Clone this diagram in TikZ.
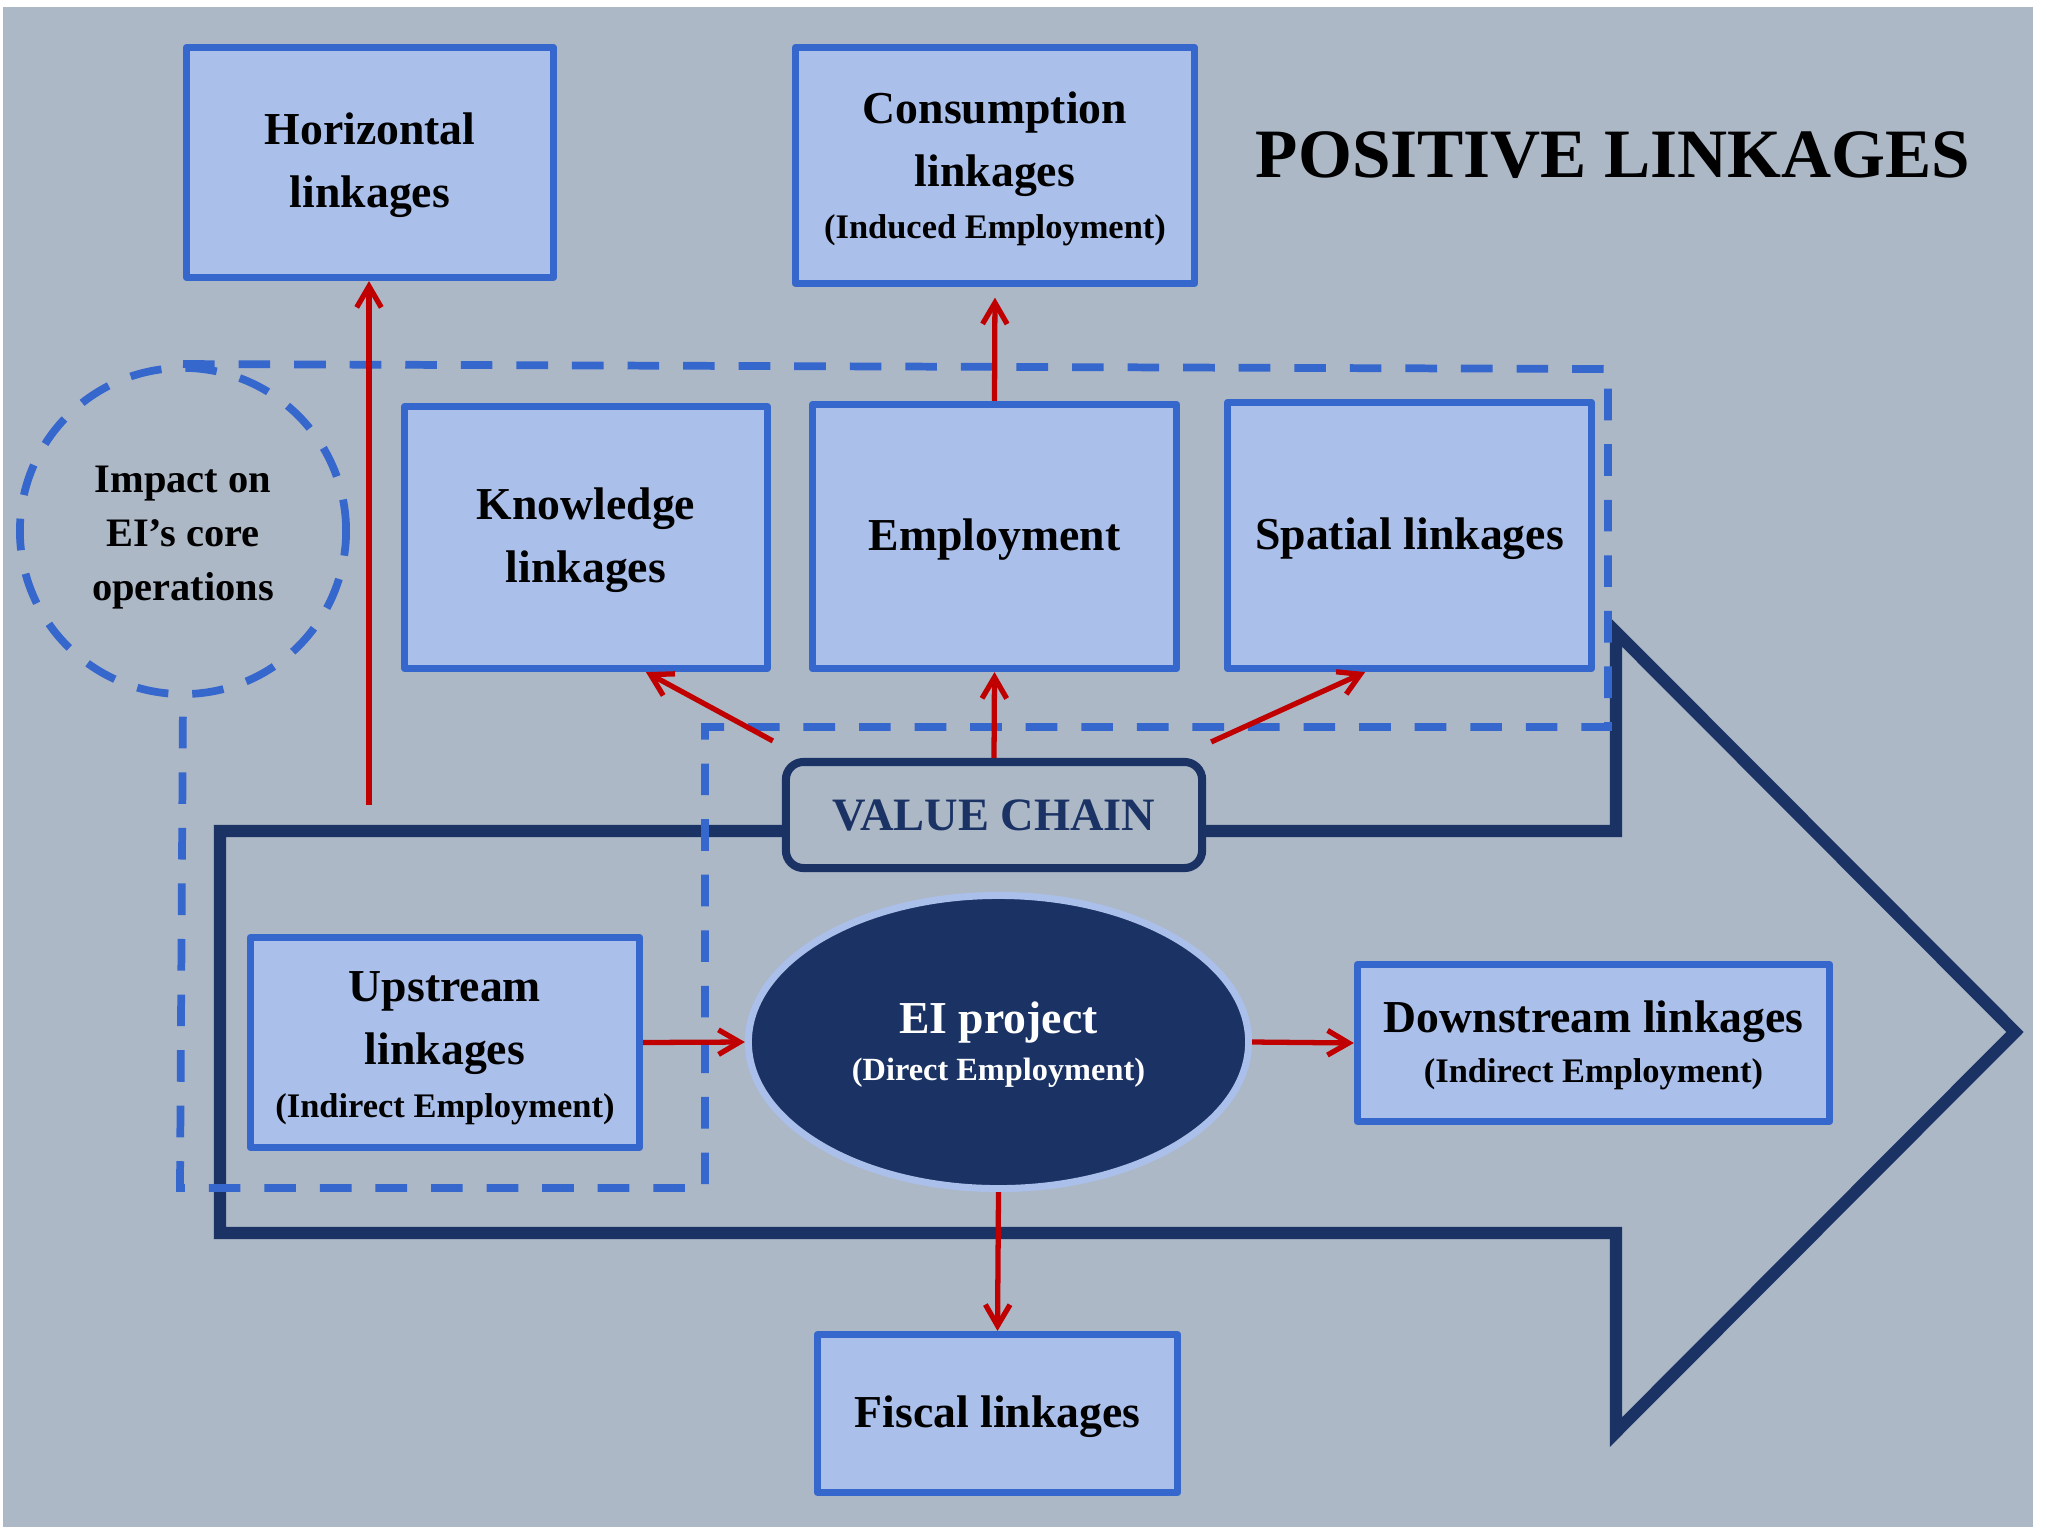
\documentclass[tikz,border=0pt]{standalone}
\usepackage{fontspec}
\setmainfont{Liberation Serif}
\usetikzlibrary{arrows.meta,shapes.geometric}
\definecolor{bggray}{HTML}{ADB8C7}
\definecolor{boxfill}{HTML}{AABFE9}
\definecolor{boxblue}{HTML}{3667CC}
\definecolor{navy}{HTML}{1B3264}
\definecolor{linkred}{HTML}{C00000}
\newcommand{\smalltxt}[1]{{\fontsize{9.8}{12}\selectfont #1}}

\begin{document}
\begin{tikzpicture}[x=0.01cm,y=-0.01cm,font=\bfseries,
	lowtext/.style={execute at begin node={\rule{0pt}{#1}}},
	linkbox/.style={draw=boxblue,fill=boxfill,line width=2pt,line join=round,align=center,inner sep=0pt,lowtext=11pt,font=\bfseries\fontsize{13}{18}\selectfont},
	linkarrow/.style={draw=linkred,line width=1.5pt,-{Straight Barb[length=6pt,width=7pt]}},
	dashline/.style={draw=boxblue,line width=2.2pt,dash pattern=on 9pt off 6.8pt}]
	%background
	\useasboundingbox (0,0) rectangle (2046,1527);
	\fill[bggray] (3,7) rectangle (2033,1527);
	
	%value chain arrow
	\draw[navy,line width=3.5pt] (220,831) -- (1616,831) -- (1616,632) -- (2015,1032) -- (1616,1432) -- (1616,1233) -- (220,1233) -- cycle;
	
	%core operations
	\node[circle,dashline,minimum size=3.26cm,inner sep=0pt,align=center,lowtext=42pt,font=\bfseries\fontsize{11.5}{15.4}\selectfont] (impact) at (183,531) {Impact on\\EI's core\\operations}; %circle
	\draw[dashline] (impact.north) -- (1608,369) -- (1608,727) -- (705,727) -- (705,1188) -- (180,1188) -- (impact.south); %dashed outline
	
	%boxes
		\node[linkbox,lowtext=28.7pt,minimum width=3.67cm,minimum height=2.30cm] (horiz) at (370,162.5) {Horizontal\\linkages}; %horizontal
		\node[linkbox,lowtext=43.8pt,minimum width=3.99cm,minimum height=2.36cm] (cons) at (995,165.5) {Consumption\\linkages\\[-3.2pt]\smalltxt{(Induced Employment)}}; %consumption
		\node[linkbox,lowtext=28.7pt,minimum width=3.62cm,minimum height=2.62cm] (know) at (586,537.5) {Knowledge\\linkages}; %knowledge
		\node[linkbox,minimum width=3.64cm,minimum height=2.64cm] (empl) at (994.5,536.5) {Employment}; %employment
		\node[linkbox,minimum width=3.64cm,minimum height=2.66cm] (spat) at (1409.5,535.5) {Spatial linkages}; %spatial
		\node[linkbox,lowtext=44.6pt,minimum width=3.89cm,minimum height=2.10cm] (up) at (445,1042.5) {Upstream\\linkages\\[-3pt]\smalltxt{(Indirect Employment)}}; %upstream
		\node[linkbox,lowtext=24.5pt,minimum width=4.72cm,minimum height=1.57cm] (down) at (1593.5,1043) {Downstream linkages\\[-3.8pt]\smalltxt{(Indirect Employment)}}; %downstream
		\node[linkbox,minimum width=3.60cm,minimum height=1.58cm] (fisc) at (997.5,1413.5) {Fiscal linkages}; %fiscal
	
	%centre
		\node[draw=navy,fill=bggray,line width=2.3pt,rounded corners=5pt,minimum width=4.16cm,minimum height=1.06cm,text=navy,font=\bfseries\fontsize{13.2}{16}\selectfont] (vc) at (994,815) {VALUE CHAIN}; %value chain label
		\node[ellipse,draw=boxfill,fill=navy,line width=2pt,minimum width=5cm,minimum height=2.93cm,inner sep=0pt,text=white,align=center,lowtext=24.1pt,font=\bfseries\fontsize{13}{18}\selectfont] (ei) at (998.5,1042) {EI project\\[-4.6pt]{\fontsize{9.2}{11}\selectfont (Direct Employment)}}; %project
	
	%title
	\node[anchor=base,font=\bfseries\fontsize{19.7}{24}\selectfont] (title) at (1613,177) {POSITIVE LINKAGES};
	
	%arrows
		\coordinate (hstart) at (369,805);
		\draw[linkarrow] (hstart) -- (hstart |- horiz.south); %to horizontal
		\draw[linkarrow,shorten >=3pt] (empl.north) -- (cons.south); %to consumption
		\draw[linkarrow] (vc.north) -- (empl.south); %to employment
		\draw[linkarrow] ([shift={(-9,-17)}]vc.north west) -- (know.-66); %to knowledge
		\draw[linkarrow] ([shift={(5,-16)}]vc.north east) -- (spat.-108); %to spatial
		\draw[linkarrow] (up.east) -- (ei.west); %upstream
		\draw[linkarrow] (ei.east) -- (down.west); %downstream
		\draw[linkarrow] (ei.south) -- (fisc.north); %fiscal
\end{tikzpicture}
\end{document}
